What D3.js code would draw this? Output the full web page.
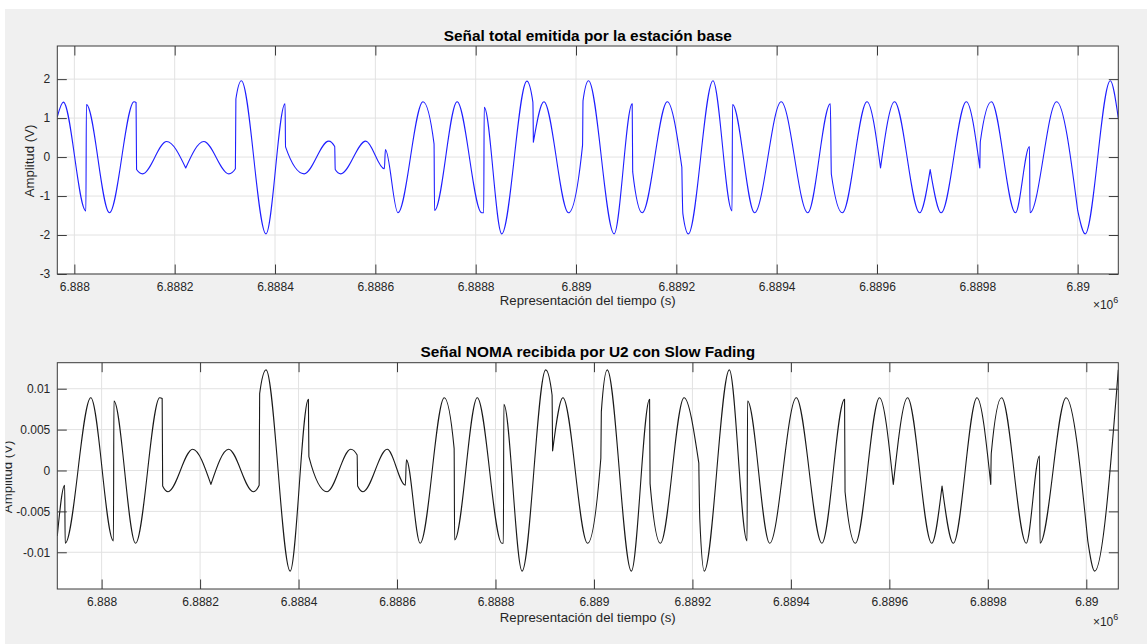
<!DOCTYPE html>
<html>
<head>
<meta charset="utf-8">
<script src="https://cdn.jsdelivr.net/npm/d3@7"></script>
<style>
  body { margin: 0; background: #fff; }
  text { font-family: "Liberation Sans", Arial, Helvetica, sans-serif; }
</style>
</head>
<body>
<svg id="chart" width="1147" height="644"></svg>
<script>
// ---------------- data ----------------
const xTickValues = [6888000, 6888200, 6888400, 6888600, 6888800, 6889000, 6889200, 6889400, 6889600, 6889800, 6890000];
const xTickLabels = ["6.888", "6.8882", "6.8884", "6.8886", "6.8888", "6.889", "6.8892", "6.8894", "6.8896", "6.8898", "6.89"];

const topXLimits = [6887966, 6890081];
const topYLimits = [-3, 2.85];
const topYTicks = [-3, -2, -1, 0, 1, 2];
const topYTickLabels = ["-3", "-2", "-1", "0", "1", "2"];

const bottomXLimits = [6887910, 6890065];
const bottomYLimits = [-0.01449, 0.01318];
const bottomYTicks = [-0.01, -0.005, 0, 0.005, 0.01];
const bottomYTickLabels = ["-0.01", "-0.005", "0", "0.005", "0.01"];

const topTitle = "Señal total emitida por la estación base";
const bottomTitle = "Señal NOMA recibida por U2 con Slow Fading";
const xLabel = "Representación del tiempo (s)";
const yLabel = "Amplitud (V)";

// signal: pieces [time (s), amplitude]; consecutive pieces joined by straight lines
const topSignal = [
  [[6887966, 1.03], [6887978, 1.41], [6888023, -1.38], [6888024, 1.35], [6888070, -1.43], [6888119, 1.42],
   [6888123, 1.40], [6888124, -0.32], [6888136, -0.43], [6888184, 0.40], [6888222, -0.28]],
  [[6888222, -0.28], [6888258, 0.40], [6888308, -0.43], [6888321, -0.30], [6888322, 1.49], [6888333, 1.96],
   [6888382, -1.97], [6888420, 1.37], [6888421, 0.26], [6888458, -0.43], [6888507, 0.41], [6888519, 0.27],
   [6888520, -0.32], [6888531, -0.43], [6888581, 0.41], [6888618, -0.30], [6888620, 0.19], [6888645, -1.43],
   [6888695, 1.42], [6888717, 0.34], [6888718, -1.37], [6888763, 1.42], [6888812, -1.43], [6888816, -1.43],
   [6888817, 1.28], [6888852, -1.97], [6888902, 1.95], [6888914, 1.41], [6888915, 0.38]],
  [[6888915, 0.38], [6888936, 1.42], [6888985, -1.43], [6889013, 0.30], [6889014, 1.45], [6889025, 1.96],
   [6889076, -1.97], [6889112, 1.37], [6889113, -0.38], [6889132, -1.43], [6889182, 1.42], [6889211, -0.26]],
  [[6889211, -0.26], [6889213, -1.45], [6889224, -1.97], [6889273, 1.96], [6889311, -1.38], [6889312, 1.35],
   [6889356, -1.43], [6889409, 1.42], [6889462, -1.43], [6889507, 1.37], [6889509, -0.44], [6889531, -1.43],
   [6889580, 1.42], [6889607, -0.28]],
  [[6889607, -0.28], [6889635, 1.42], [6889685, -1.43], [6889706, -0.32]],
  [[6889706, -0.32], [6889728, -1.43], [6889778, 1.42], [6889805, -0.28]],
  [[6889805, -0.28], [6889806, 0.40], [6889828, 1.42], [6889876, -1.43], [6889904, 0.27], [6889905, -1.43],
   [6889958, 1.42], [6890000, -1.37]],
  [[6890000, -1.37], [6890015, -1.97], [6890065, 1.96], [6890081, 1.00]]
];

const bottomSignal = [
  [[6887910, -0.0080], [6887925, -0.0018], [6887926, -0.0089], [6887978, 0.0089], [6888024, -0.0086],
   [6888025, 0.0085], [6888069, -0.0089], [6888118, 0.0089], [6888123, 0.0088], [6888124, -0.0019],
   [6888135, -0.0026], [6888185, 0.0026], [6888222, -0.0017]],
  [[6888222, -0.0017], [6888258, 0.0026], [6888308, -0.0026], [6888320, -0.0018], [6888321, 0.0094],
   [6888334, 0.0123], [6888383, -0.0123], [6888420, 0.0087], [6888421, 0.0017], [6888458, -0.0026],
   [6888506, 0.0026], [6888519, 0.0019], [6888520, -0.0019], [6888531, -0.0026], [6888580, 0.0026],
   [6888617, -0.0018], [6888619, 0.0013], [6888647, -0.0089], [6888696, 0.0089], [6888716, 0.0027],
   [6888717, -0.0085], [6888763, 0.0089], [6888813, -0.0089], [6888816, -0.0089], [6888817, 0.0081],
   [6888854, -0.0123], [6888902, 0.0123], [6888915, 0.0092], [6888916, 0.0024]],
  [[6888916, 0.0024], [6888937, 0.0089], [6888987, -0.0089], [6889014, 0.0015], [6889015, 0.0072],
   [6889027, 0.0123], [6889076, -0.0123], [6889113, 0.0087], [6889114, -0.0016], [6889135, -0.0089],
   [6889183, 0.0089], [6889213, 0.0009]],
  [[6889213, 0.0009], [6889215, -0.0060], [6889224, -0.0123], [6889275, 0.0123], [6889311, -0.0086],
   [6889312, 0.0085], [6889357, -0.0089], [6889411, 0.0089], [6889463, -0.0089], [6889509, 0.0087],
   [6889510, -0.0026], [6889531, -0.0089], [6889580, 0.0089], [6889608, -0.0017]],
  [[6889608, -0.0017], [6889637, 0.0089], [6889686, -0.0089], [6889707, -0.0019]],
  [[6889707, -0.0019], [6889730, -0.0089], [6889778, 0.0089], [6889806, -0.0017]],
  [[6889806, -0.0017], [6889807, 0.0021], [6889828, 0.0089], [6889878, -0.0089], [6889905, 0.0018],
   [6889906, -0.0089], [6889959, 0.0089], [6890003, -0.0086]],
  [[6890003, -0.0086], [6890017, -0.0123], [6890065, 0.0123]]
];

// ---------------- drawing ----------------
const W = 1147, H = 644;
const svg = d3.select("#chart");
svg.append("rect").attr("width", W).attr("height", H).attr("fill", "#ffffff");
svg.append("rect").attr("x", 5).attr("y", 9).attr("width", W - 5).attr("height", H - 9).attr("fill", "#f0f0f0");

const defs = svg.append("defs");
defs.append("clipPath").attr("id", "figclip")
  .append("rect").attr("x", 5.5).attr("y", 9).attr("width", W).attr("height", H);

const TXT = "#262626";
const AXC = "#3a3a3a";
const GRID = "#e2e2e2";
const TL = 9.5;

function panel(cfg, idx) {
  const { left, top, right, bottom } = cfg.box;
  const x = d3.scaleLinear().domain(cfg.xLimits).range([left, right]);
  const y = d3.scaleLinear().domain(cfg.yLimits).range([bottom, top]);
  const g = svg.append("g");

  g.append("rect").attr("x", left).attr("y", top).attr("width", right - left).attr("height", bottom - top)
    .attr("fill", "#ffffff");

  // grid
  g.append("g").selectAll("line").data(xTickValues).join("line")
    .attr("x1", d => x(d)).attr("x2", d => x(d)).attr("y1", top).attr("y2", bottom)
    .attr("stroke", GRID).attr("stroke-width", 1);
  g.append("g").selectAll("line").data(cfg.yTicks).join("line")
    .attr("x1", left).attr("x2", right).attr("y1", d => y(d)).attr("y2", d => y(d))
    .attr("stroke", GRID).attr("stroke-width", 1);

  // signal
  const clipId = "clip" + idx;
  defs.append("clipPath").attr("id", clipId)
    .append("rect").attr("x", left).attr("y", top).attr("width", right - left).attr("height", bottom - top);
  const line = d3.line().x(d => x(d[0])).y(d => y(d[1])).curve(d3.curveMonotoneX);
  const dStr = cfg.signal.map((seg, i) => {
    const s = line(seg);
    return i === 0 ? s : s.replace(/^M/, "L");
  }).join("");
  g.append("path").attr("d", dStr).attr("fill", "none")
    .attr("stroke", cfg.color).attr("stroke-width", 1.1).attr("stroke-linejoin", "round")
    .attr("clip-path", `url(#${clipId})`);

  // axes
  const fmtX = d => xTickLabels[xTickValues.indexOf(d)];
  const fmtY = d => cfg.yTickLabels[cfg.yTicks.indexOf(d)];
  const styleAxis = sel => {
    sel.select(".domain").remove();
    sel.selectAll(".tick line").attr("stroke", AXC).attr("stroke-width", 1);
    sel.selectAll(".tick text").attr("fill", TXT).attr("font-size", 12)
      .attr("font-family", '"Liberation Sans", Arial, sans-serif');
  };
  g.append("g").attr("transform", `translate(0,${bottom})`)
    .call(d3.axisBottom(x).tickValues(xTickValues).tickFormat(fmtX).tickSize(-TL).tickSizeOuter(0).tickPadding(8))
    .call(styleAxis);
  g.append("g").attr("transform", `translate(0,${top})`)
    .call(d3.axisTop(x).tickValues(xTickValues).tickFormat("").tickSize(-TL).tickSizeOuter(0))
    .call(styleAxis);
  g.append("g").attr("transform", `translate(${left},0)`)
    .call(d3.axisLeft(y).tickValues(cfg.yTicks).tickFormat(fmtY).tickSize(-TL).tickSizeOuter(0).tickPadding(7))
    .call(styleAxis);
  g.append("g").attr("transform", `translate(${right},0)`)
    .call(d3.axisRight(y).tickValues(cfg.yTicks).tickFormat("").tickSize(-TL).tickSizeOuter(0))
    .call(styleAxis);

  // box
  g.append("rect").attr("x", left).attr("y", top).attr("width", right - left).attr("height", bottom - top)
    .attr("fill", "none").attr("stroke", AXC).attr("stroke-width", 1);

  // title
  g.append("text").attr("x", (left + right) / 2).attr("y", cfg.titleBaseline)
    .attr("text-anchor", "middle").attr("font-weight", "bold").attr("font-size", 15.4)
    .attr("fill", "#000").text(cfg.title);

  // x label
  g.append("text").attr("x", (left + right) / 2).attr("y", bottom + cfg.xLabelOffset)
    .attr("text-anchor", "middle").attr("font-size", 13.2).attr("fill", TXT).text(xLabel);

  // exponent
  const ex = g.append("text").attr("x", right).attr("y", bottom + cfg.xLabelOffset + 4)
    .attr("text-anchor", "end").attr("font-size", 12).attr("fill", TXT);
  ex.append("tspan").text("\u00d710");
  ex.append("tspan").attr("dy", -6).attr("font-size", 9).text("6");

  // y label
  const yl = g.append("text")
    .attr("transform", `translate(${cfg.yLabelX},${(top + bottom) / 2 + 1}) rotate(-90)`)
    .attr("text-anchor", "middle").attr("font-size", 13.2).attr("fill", TXT)
    .text(yLabel);
  if (cfg.clipYLabel) {
    const wrap = svg.append("g").attr("clip-path", "url(#figclip)");
    wrap.node().appendChild(yl.node());
  }
}

panel({
  box: { left: 57.3, top: 46, right: 1118.3, bottom: 274 },
  xLimits: topXLimits, yLimits: topYLimits, yTicks: topYTicks, yTickLabels: topYTickLabels,
  signal: topSignal, color: "#1f1fff", title: topTitle, titleBaseline: 40.5, yLabelX: 34.3,
  xLabelOffset: 30.5, clipYLabel: false
}, 0);

panel({
  box: { left: 57.3, top: 362.7, right: 1118.3, bottom: 589 },
  xLimits: bottomXLimits, yLimits: bottomYLimits, yTicks: bottomYTicks, yTickLabels: bottomYTickLabels,
  signal: bottomSignal, color: "#1a1a1a", title: bottomTitle, titleBaseline: 356.7, yLabelX: 11.5,
  xLabelOffset: 33.4, clipYLabel: true
}, 1);
</script>
</body>
</html>
